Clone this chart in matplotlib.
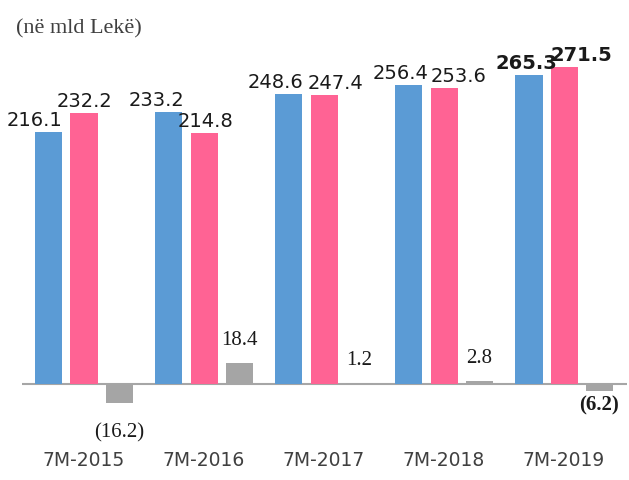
import matplotlib.pyplot as plt
import numpy as np

# Data (në mld Lekë)
categories = ["7M-2015", "7M-2016", "7M-2017", "7M-2018", "7M-2019"]
revenues = [216.1, 233.2, 248.6, 256.4, 265.3]
expenditures = [232.2, 214.8, 247.4, 253.6, 271.5]
balance = [-16.2, 18.4, 1.2, 2.8, -6.2]


def fmt(v):
    # Negative values shown in parentheses
    return f"({abs(v):.1f})" if v < 0 else f"{v:.1f}"


def make_chart():
    fig = plt.figure(figsize=(6.29, 4.81), dpi=100)
    ax = fig.add_axes([0.035, 0.1027, 0.962, 0.80])

    x = np.arange(len(categories))
    step = 0.293
    width = 0.226
    blue = "#5B9BD5"
    pink = "#FF6394"
    gray = "#A5A5A5"

    ax.bar(x - step, revenues, width, color=blue, zorder=2)
    ax.bar(x, expenditures, width, color=pink, zorder=2)
    ax.bar(x + step, balance, width, color=gray, zorder=3)

    ax.axhline(0, color="#A6A6A6", linewidth=1.5, zorder=1)

    # Label horizontal nudges in pixels (label collisions in the original)
    blue_dx = [-14, -12, -13, -8, -3]
    pink_dx = [0, 1, 11, 14, 17]

    for i in range(len(categories)):
        weight = "bold" if i == len(categories) - 1 else "normal"
        ax.annotate(fmt(revenues[i]), (x[i] - step, revenues[i]),
                    xytext=(blue_dx[i], 3), textcoords="offset pixels",
                    ha="center", va="bottom", fontsize=14,
                    color="#1a1a1a", fontweight=weight)
        ax.annotate(fmt(expenditures[i]), (x[i], expenditures[i]),
                    xytext=(pink_dx[i], 3), textcoords="offset pixels",
                    ha="center", va="bottom", fontsize=14,
                    color="#1a1a1a", fontweight=weight)
        v = balance[i]
        if v >= 0:
            ax.annotate(fmt(v), (x[i] + step, v), xytext=(0, 14),
                        textcoords="offset pixels", ha="center", va="bottom",
                        fontsize=15, family="Liberation Serif",
                        color="#1a1a1a", fontweight=weight)
        else:
            dy = -19 if i == 0 else -3
            ax.annotate(fmt(v), (x[i] + step, v), xytext=(0, dy),
                        textcoords="offset pixels", ha="center", va="top",
                        fontsize=15, family="Liberation Serif",
                        color="#1a1a1a", fontweight=weight)

    ax.set_xlim(-0.517, 4.525)
    ax.set_ylim(-40, 290)
    ax.set_xticks(x)
    ax.set_xticklabels(categories, fontsize=13.5, color="#404040")
    ax.tick_params(axis="x", length=0, pad=14)
    ax.set_yticks([])
    for s in ax.spines.values():
        s.set_visible(False)

    fig.text(0.026, 0.94, "(në mld Lekë)", fontsize=16,
             family="Liberation Serif", color="#404040", va="center")

    fig.savefig("out.png", dpi=100)
    plt.close(fig)


if __name__ == "__main__":
    make_chart()
